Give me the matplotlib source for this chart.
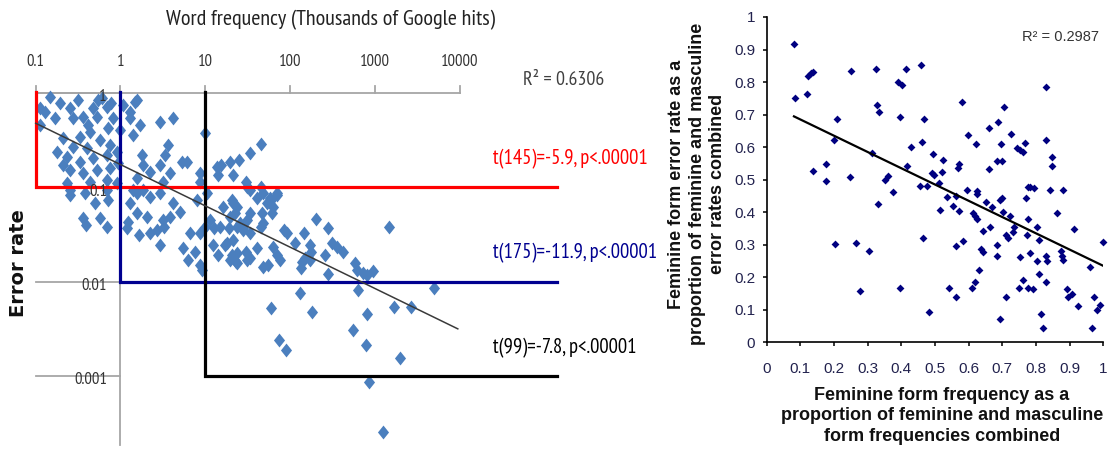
import numpy as np
import matplotlib
matplotlib.use("Agg")
import matplotlib.pyplot as plt
from matplotlib import font_manager as fm
from matplotlib.path import Path

# ---------------- data: left panel (log10 values) ----------------
word_freq_log10 = [
    -0.831, -0.949, -0.713, -0.772, -0.595, -0.556, -0.439, -0.321, -0.281, -0.163,
    -0.222, -0.085, -0.144, 0.033, 0.191, 0.112, -0.360, -0.478, -0.674, -0.556,
    -0.399, -0.242, -0.124, -0.752, -0.634, -0.478, -0.321, -0.163, -0.045, -0.595,
    -0.439, -0.281, -0.124, -0.674, -0.163, -0.360, -0.595, -0.890, -0.949, -0.501,
    -0.383, -0.006, -0.029, 0.171, 0.112, 0.230, 0.466, 0.623, 0.996, 0.151,
    0.250, 0.269, 0.564, 0.525, 0.466, 0.722, 0.781, 0.584, 0.937, 1.134,
    1.153, 1.291, 0.937, 0.505, 0.348, 0.191, 1.653, 1.527, 1.401, 1.190,
    1.485, 1.653, 1.843, 1.780, 1.315, 1.327, -0.634, -0.595, -0.419, -0.301,
    -0.144, -0.439, -0.242, -0.045, 0.112, 0.092, 0.191, -0.163, 0.151, 0.269,
    0.348, 0.466, 0.623, 0.702, 0.191, 0.309, 0.505, 0.584, 0.466, 0.741,
    0.879, 0.800, 0.937, 0.958, 1.094, 1.153, 1.252, 1.291, 1.370, 1.055,
    1.173, 1.291, 1.370, 0.899, 1.017, 0.820, 0.937, 1.212, 0.348,
    0.222, 0.432, 0.517,
    -0.410, -0.158, 0.074,
    1.001, 1.106, 1.275, 1.443, 1.653, 1.232, 1.316, 1.358, 1.485, 1.527,
    1.611, 1.675, 1.738, 1.780, 1.864, 1.948, 2.117, 2.264,
    2.305, 2.450, 2.164, 1.928, 1.960, 2.058, 2.235, 2.246, 2.491, 2.550,
    2.627, 2.412, 2.137, 2.129, 2.235, 2.443, 2.765, 2.785, 2.863, 2.981, 2.903, 2.804,
    2.903, 2.738, 2.895,
    3.225, 3.426, 3.700, 3.166, 3.296, 2.934, 3.099,
    1.330, 1.350, 1.370, 1.330,
    1.370,
    1.488, 1.527, 1.488, 1.527,
    1.802, 1.842, 1.881, 1.684, 1.665, 1.783, 1.802, 1.724, 1.409, 1.448,
    1.527, 1.684, 1.842, 1.488, 1.763, 1.606,
    -0.116, -0.263, 2.180,
]
error_rate_log10 = [
    -0.039, -0.162, -0.109, -0.268, -0.162, -0.268, -0.251, -0.162, -0.251, -0.145,
    -0.056, -0.268, -0.374, -0.127, -0.074, -0.198, -0.410, -0.463, -0.480, -0.569,
    -0.586, -0.498, -0.551, -0.622, -0.675, -0.728, -0.692, -0.657, -0.622, -0.816,
    -0.851, -0.816, -0.798, -0.763, -0.922, -0.940, -1.028, -0.198, -0.339, -0.074,
    -0.339, -0.392, -0.742, -0.092, -0.268, -0.339, -0.304, -0.268, -0.427, -0.445,
    -0.657, -0.763, -0.551, -0.657, -0.763, -0.728, -0.728, -0.851, -0.851, -0.782,
    -0.870, -0.728, -0.940, -0.940, -0.835, -0.905, -0.541, -0.639, -0.710, -0.763,
    -0.940, -0.994, -1.064, -1.135, -1.135, -0.870, -0.958, -1.082, -1.064, -1.170,
    -1.135, -1.329, -1.329, -0.958, -1.170, -1.365, -1.064, -1.029, -1.029, -1.029,
    -1.100, -1.064, -1.170, -1.259, -1.276, -1.312, -1.347, -1.312, -1.612, -1.647,
    -1.683, -1.771, -1.824, -1.877, -1.612, -1.718, -1.594, -1.771, -1.700, -1.347,
    -1.418, -1.312, -1.206, -1.135, -1.064, -1.488, -1.488, -1.206, -1.488,
    -1.506, -1.453, -1.418,
    -1.400, -1.418, -1.435,
    -1.418, -1.435, -1.435, -1.435, -1.418, -1.612, -1.718, -1.789, -1.683, -1.753,
    -1.647, -1.842, -1.824, -2.283, -2.619, -2.725, -2.124, -2.325,
    -1.339, -1.435, -1.481, -1.453, -1.488, -1.594, -1.612, -1.683, -1.594, -1.630,
    -1.683, -1.718, -1.789, -1.859, -1.771, -1.919, -1.806, -1.877, -1.912, -1.884, -1.930, -2.089,
    -2.344, -2.513, -2.672,
    -2.266, -2.273, -2.071, -1.418, -2.807, -3.062, -3.592,
    -1.170, -1.276, -1.418, -1.559,
    -1.806,
    -1.771, -1.488, -1.347, -1.276,
    -1.630, -1.718, -1.771, -1.382, -1.276, -1.276, -1.206, -1.170, -1.382, -1.453,
    -1.029, -1.064, -1.082, -0.994, -1.117, -1.117,
    -0.109, -0.074, -1.753,
]
left_fit_intercept_log10 = -0.759
left_fit_slope = -0.438
left_fit_range = [0.1, 9500]
left_r2 = "R\u00b2 = 0.6306"

freq_ticks = [0.1, 1, 10, 100, 1000, 10000]
freq_tick_labels = ["0.1", "1", "10", "100", "1000", "10000"]
err_ticks = [1, 0.1, 0.01, 0.001]
err_tick_labels = ["1", "0.1", "0.01", "0.001"]

thresh_freq = [0.1, 1, 10]
thresh_err = [0.1, 0.01, 0.001]
thresh_colors = ["#ff0000", "#000090", "#000000"]
thresh_labels = ["t(145)=-5.9, p<.00001", "t(175)=-11.9, p<.00001", "t(99)=-7.8, p<.00001"]

# ---------------- data: right panel ----------------
fem_freq_prop = [
    0.081, 0.084, 0.119, 0.124, 0.131, 0.137, 0.139, 0.176, 0.176, 0.208,
    0.201, 0.250, 0.248, 0.314, 0.325, 0.328, 0.333, 0.331, 0.350, 0.359,
    0.376, 0.389, 0.403, 0.396, 0.414, 0.416, 0.428, 0.458, 0.461, 0.468,
    0.455, 0.475, 0.495, 0.492, 0.498, 0.513, 0.525, 0.522, 0.535, 0.515,
    0.554, 0.571, 0.562, 0.571, 0.569, 0.579, 0.599, 0.594, 0.622, 0.624,
    0.626, 0.614, 0.619, 0.626, 0.651, 0.661, 0.659, 0.668, 0.688, 0.705,
    0.696, 0.685, 0.698, 0.693, 0.698, 0.703, 0.725, 0.745, 0.752, 0.723,
    0.767, 0.762, 0.771, 0.775, 0.782, 0.794, 0.777, 0.830, 0.830, 0.849,
    0.849, 0.842, 0.861, 0.879,
    0.203, 0.265, 0.303, 0.277, 0.396, 0.463, 0.481, 0.543, 0.562, 0.562,
    0.584, 0.610, 0.620, 0.632, 0.636, 0.644, 0.644, 0.663, 0.683, 0.683,
    0.693, 0.711, 0.716, 0.711, 0.731, 0.735, 0.752, 0.750, 0.762, 0.772,
    0.775, 0.782, 0.792, 0.802, 0.809, 0.809, 0.804, 0.816, 0.822, 0.830,
    0.830, 0.832, 0.873, 0.876, 0.879, 0.891, 0.896, 0.908, 0.914, 0.926,
    0.960, 0.965, 0.972, 0.982, 0.990, 0.998,
]
fem_error_prop = [
    0.918, 0.750, 0.762, 0.818, 0.827, 0.832, 0.526, 0.548, 0.495, 0.687,
    0.622, 0.834, 0.508, 0.582, 0.840, 0.729, 0.709, 0.424, 0.500, 0.510,
    0.462, 0.801, 0.790, 0.692, 0.839, 0.541, 0.600, 0.852, 0.616, 0.687,
    0.480, 0.480, 0.580, 0.520, 0.515, 0.490, 0.559, 0.522, 0.447, 0.408,
    0.418, 0.403, 0.449, 0.549, 0.535, 0.740, 0.638, 0.468, 0.610, 0.464,
    0.456, 0.396, 0.388, 0.378, 0.432, 0.660, 0.533, 0.415, 0.678, 0.724,
    0.610, 0.558, 0.558, 0.437, 0.444, 0.402, 0.641, 0.597, 0.590, 0.388,
    0.612, 0.584, 0.444, 0.478, 0.477, 0.473, 0.380, 0.784, 0.622, 0.569,
    0.543, 0.468, 0.398, 0.468,
    0.303, 0.305, 0.280, 0.157, 0.167, 0.320, 0.092, 0.167, 0.296, 0.140,
    0.312, 0.167, 0.184, 0.221, 0.288, 0.278, 0.341, 0.354, 0.300, 0.265,
    0.071, 0.331, 0.320, 0.140, 0.339, 0.354, 0.262, 0.167, 0.191, 0.329,
    0.167, 0.276, 0.163, 0.249, 0.313, 0.211, 0.354, 0.086, 0.045, 0.186,
    0.265, 0.249, 0.280, 0.265, 0.252, 0.165, 0.140, 0.148, 0.349, 0.111,
    0.232, 0.045, 0.140, 0.099, 0.114, 0.308,
]
right_fit_intercept = 0.735
right_fit_slope = -0.50
right_fit_range = [0.081, 1.0]
right_r2 = "R\u00b2 = 0.2987"
prop_ticks = [round(0.1 * i, 1) for i in range(11)]
prop_tick_labels = ["0", "0.1", "0.2", "0.3", "0.4", "0.5", "0.6", "0.7", "0.8", "0.9", "1"]

# ---------------- fonts ----------------
names = {f.name for f in fm.fontManager.ttflist}
NARROW, NS = "Liberation Sans", 0.84
for cand, scale in [("Liberation Sans Narrow", 1.0), ("Arial Narrow", 1.0),
                    ("PT Sans Narrow", 1.1), ("Roboto Condensed", 1.02),
                    ("Archivo Narrow", 1.02), ("Pragati Narrow", 1.1)]:
    if cand in names:
        NARROW, NS = cand, scale
        break
SANS = "Liberation Sans"

W, H = 1112, 450
fig = plt.figure(figsize=(W / 100, H / 100), dpi=100)


def ftext(x, y, s, **kw):
    fig.text(x / W, 1 - y / H, s, **kw)


# ---------------- left panel ----------------
ax1 = fig.add_axes([0, 0, 560 / W, 1])
ax1.set_xscale("log")
ax1.set_yscale("log")
ax1.set_xlim(10 ** -1.421, 10 ** 5.183)
ax1.set_ylim(10 ** -3.786, 10 ** 0.986)
ax1.axis("off")

gray = "#a6a6a6"
ax1.plot([freq_ticks[0], freq_ticks[-1]], [1, 1], color=gray, lw=1.3, zorder=1)
for f in freq_ticks:
    ax1.plot([f, f], [1, 1.19], color=gray, lw=1.3, zorder=1)
ax1.plot([1, 1], [1, 1.85e-4], color=gray, lw=1.3, zorder=1)
for e in err_ticks:
    ax1.plot([0.1, 1], [e, e], color=gray, lw=1.3, zorder=1)

tall_diamond = Path([(0, 1), (0.8, 0), (0, -1), (-0.8, 0), (0, 1)],
                    [Path.MOVETO, Path.LINETO, Path.LINETO, Path.LINETO, Path.CLOSEPOLY])
wf = 10 ** np.array(word_freq_log10)
er = 10 ** np.array(error_rate_log10)
ax1.scatter(wf, er, marker=tall_diamond, s=100, color="#4b7fbe", linewidths=0, zorder=2)

right_end = 1.4e5
for f, e, c in zip(thresh_freq, thresh_err, thresh_colors):
    ax1.plot([f, f, right_end], [1.02, e, e], color=c, lw=2.3, zorder=3,
             solid_joinstyle="miter", clip_on=False)

fx = np.array(left_fit_range)
fy = 10 ** (left_fit_intercept_log10 + left_fit_slope * np.log10(fx))
ax1.plot(fx, fy, color="#3a3a3a", lw=1.1, zorder=4)

for f, lbl in zip(freq_ticks, freq_tick_labels):
    ax1.text(f, 2.13, lbl, ha="center", va="center", fontsize=11 * NS,
             family=NARROW, color="#333333", zorder=5)
for e, lbl in zip(err_ticks, err_tick_labels):
    ax1.text(0.69, e * 0.9, lbl, ha="right", va="center", fontsize=11 * NS,
             family=NARROW, color="#333333", zorder=5)

for e, c, lbl in zip(thresh_err, thresh_colors, thresh_labels):
    ax1.text(24700, e * 2.0, lbl, ha="left", va="center", fontsize=13.5 * NS,
             family=NARROW, color=c, zorder=5)
ax1.text(55800, 1.37, left_r2, ha="left", va="center", fontsize=13 * NS,
         family=NARROW, color="#404040", zorder=5)

ftext(331, 20, "Word frequency (Thousands of Google hits)", ha="center", va="center",
      fontsize=14.5 * NS, family=NARROW, color="#222222")
ftext(19, 263, "Error rate", ha="center", va="center", rotation=90,
      fontsize=14, family="DejaVu Sans", fontweight="bold", color="#111111")

# ---------------- right panel ----------------
ax2 = fig.add_axes([766.7 / W, 1 - 342.3 / H, 336.6 / W, 325.3 / H])
ax2.set_xlim(0, 1)
ax2.set_ylim(0, 1)
sq_diamond = Path([(0, 1), (1, 0), (0, -1), (-1, 0), (0, 1)],
                  [Path.MOVETO, Path.LINETO, Path.LINETO, Path.LINETO, Path.CLOSEPOLY])
n = min(len(fem_freq_prop), len(fem_error_prop))
ax2.scatter(fem_freq_prop[:n], fem_error_prop[:n], marker=sq_diamond, s=32,
            color="#000080", linewidths=0, zorder=3, clip_on=False)
rx = np.array(right_fit_range)
ax2.plot(rx, right_fit_intercept + right_fit_slope * rx, color="black", lw=1.6, zorder=4)

for side in ["top", "right"]:
    ax2.spines[side].set_visible(False)
for side in ["left", "bottom"]:
    ax2.spines[side].set_linewidth(1.2)
    ax2.spines[side].set_color("black")
ax2.set_xticks(prop_ticks)
ax2.set_xticklabels(prop_tick_labels)
ax2.set_yticks(prop_ticks)
ax2.set_yticklabels(prop_tick_labels)
ax2.tick_params(axis="both", direction="out", length=3.2, width=1.1, color="black",
                labelsize=11, labelcolor="#22224e")
ax2.tick_params(axis="x", pad=11)
ax2.tick_params(axis="y", pad=5)
for lab in ax2.get_xticklabels() + ax2.get_yticklabels():
    lab.set_family(SANS)

ftext(1022, 37, right_r2, ha="left", va="center", fontsize=10.5, family=SANS, color="#333333")
ftext(697, 184, "Feminine form error rate as a\nproportion of feminine and masculine\nerror rates combined",
      ha="center", va="center", rotation=90, multialignment="center", linespacing=1.3,
      fontsize=13, fontweight="bold", family=SANS, color="#111111")
ftext(942, 416, "Feminine form frequency as a\nproportion of feminine and masculine\nform frequencies combined",
      ha="center", va="center", multialignment="center", linespacing=1.27,
      fontsize=13, fontweight="bold", family=SANS, color="#111111")

fig.savefig("out.png", dpi=100)
